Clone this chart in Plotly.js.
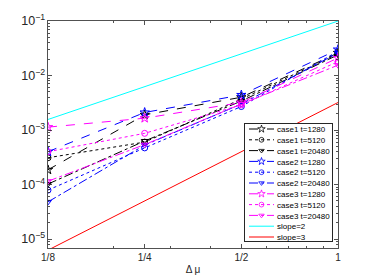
<!DOCTYPE html>
<html>
<head>
<meta charset="utf-8">
<script src="https://cdn.plot.ly/plotly-3.0.1.min.js"></script>
<style>html,body{margin:0;padding:0;background:#fff;}#plot{width:374px;height:280px;}</style>
</head>
<body>
<div id="plot"></div>
<script>
// x positions (Delta mu) and tick labels
const xVals = [0.125, 0.25, 0.5, 1];
const xLabels = ['1/8', '1/4', '1/2', '1'];

// error values
const case1_t1280  = [1.86e-4, 1.9e-3, 4.0e-3, 2.6e-2];
const case1_t5120  = [3.1e-4, 6.0e-4, 3.7e-3, 2.5e-2];
const case1_t20480 = [1.02e-4, 6.3e-4, 3.4e-3, 2.4e-2];
const case2_t1280  = [4.0e-4, 2.1e-3, 4.4e-3, 3.0e-2];
const case2_t5120  = [7.9e-5, 4.7e-4, 2.7e-3, 2.8e-2];
const case2_t20480 = [4.8e-5, 5.3e-4, 3.0e-3, 2.6e-2];
const case3_t1280  = [1.13e-3, 1.65e-3, 3.2e-3, 2.1e-2];
const case3_t5120  = [4.0e-4, 8.7e-4, 2.9e-3, 1.8e-2];
const case3_t20480 = [1.15e-4, 5.4e-4, 3.0e-3, 1.55e-2];
const slope2 = [1.5625e-3, 6.25e-3, 2.5e-2, 1.0e-1];
const slope3 = [6.25e-6, 5.0e-5, 4.0e-4, 3.2e-3];

const seriesNames = ['case1 t=1280','case1 t=5120','case1 t=20480',
                     'case2 t=1280','case2 t=5120','case2 t=20480',
                     'case3 t=1280','case3 t=5120','case3 t=20480'];
const seriesData = [case1_t1280, case1_t5120, case1_t20480,
                    case2_t1280, case2_t5120, case2_t20480,
                    case3_t1280, case3_t5120, case3_t20480];
const caseColors = ['#000000', '#0000ff', '#ff00ff'];
const dashes = ['dash', 'dot', 'dashdot'];
const symbols = ['star-open', 'circle-open', 'triangle-down-open'];
const sizes = [7, 6, 6];

const traces = seriesData.map((ys, i) => {
  const c = Math.floor(i / 3), k = i % 3;
  return {
    x: xVals, y: ys, name: seriesNames[i], type: 'scatter', mode: 'lines+markers',
    line: {color: caseColors[c], width: 1, dash: dashes[k]},
    marker: {symbol: symbols[k], size: sizes[k], color: caseColors[c], line: {color: caseColors[c], width: 1}}
  };
});
traces.push({x: xVals, y: slope2, name: 'slope=2', type: 'scatter', mode: 'lines',
             line: {color: '#00ffff', width: 1}});
traces.push({x: xVals, y: slope3, name: 'slope=3', type: 'scatter', mode: 'lines',
             line: {color: '#ff0000', width: 1}});

const axisColor = '#262626';
const fontFam = 'Liberation Sans, Arial, Helvetica, sans-serif';
const layout = {
  width: 374, height: 280,
  margin: {l: 48, r: 36, t: 21, b: 32},
  paper_bgcolor: '#ffffff', plot_bgcolor: '#ffffff',
  font: {family: fontFam, size: 10, color: axisColor},
  showlegend: true,
  xaxis: {
    type: 'log', range: [Math.log10(0.125), 0],
    tickmode: 'array', tickvals: xVals, ticktext: xLabels,
    ticks: 'inside', ticklen: 4, tickwidth: 0.8, tickcolor: axisColor,
    minor: {tickmode: 'array', tickvals: [0.2,0.3,0.4,0.6,0.7,0.8,0.9], ticks: 'inside', ticklen: 2, tickcolor: axisColor, showgrid: false},
    showline: true, linecolor: axisColor, linewidth: 0.8, mirror: 'allticks',
    showgrid: false, zeroline: false,
    tickfont: {size: 10, color: axisColor},
    title: {text: 'Δ μ', font: {size: 10, color: axisColor}, standoff: 4}
  },
  yaxis: {
    type: 'log', range: [-5.165, -0.999], dtick: 1, exponentformat: 'power',
    ticks: 'inside', ticklen: 4, tickwidth: 0.8, tickcolor: axisColor,
    minor: {dtick: 'D1', ticks: 'inside', ticklen: 2, tickcolor: axisColor, showgrid: false},
    showline: true, linecolor: axisColor, linewidth: 0.8, mirror: 'allticks',
    showgrid: false, zeroline: false,
    tickfont: {size: 10, color: axisColor}
  },
  legend: {
    x: 0.655, y: 1, xanchor: 'left', yanchor: 'top',
    bgcolor: '#ffffff', bordercolor: axisColor, borderwidth: 1,
    font: {size: 8, color: '#000000', family: fontFam},
    itemwidth: 30, tracegroupgap: 0
  }
};

const gd = document.getElementById('plot');
Plotly.newPlot(gd, traces, layout, {staticPlot: true, displayModeBar: false}).then(() => {
  // compact the legend to match the MATLAB-style dense legend
  const leg = gd.querySelector('g.legend');
  if (!leg) return;
  const items = Array.from(leg.querySelectorAll('g.traces'));
  const step = 10.8, first = 6;
  items.forEach((el, i) => {
    const t = el.getAttribute('transform') || '';
    const m = /translate\(\s*([-\d.e]+)[ ,]+([-\d.e]+)/.exec(t);
    const x0 = m ? parseFloat(m[1]) : 0;
    el.setAttribute('transform', 'translate(' + x0 + ',' + (first + i * step) + ')');
    const txt = el.querySelector('text.legendtext');
    if (txt) { const x = parseFloat(txt.getAttribute('x')) || 40; txt.setAttribute('x', x - 8); }
    el.querySelectorAll('g.legendlines path').forEach(p => p.setAttribute('d', 'M4,0h25'));
    el.querySelectorAll('g.legendpoints path').forEach(p => p.setAttribute('transform', 'translate(16.5,0) scale(0.8)'));
  });
  const bg = leg.querySelector('rect.bg');
  if (bg) { bg.setAttribute('height', 118); bg.setAttribute('width', 88); }
  leg.setAttribute('transform', 'translate(244,123)');
});
</script>
</body>
</html>
